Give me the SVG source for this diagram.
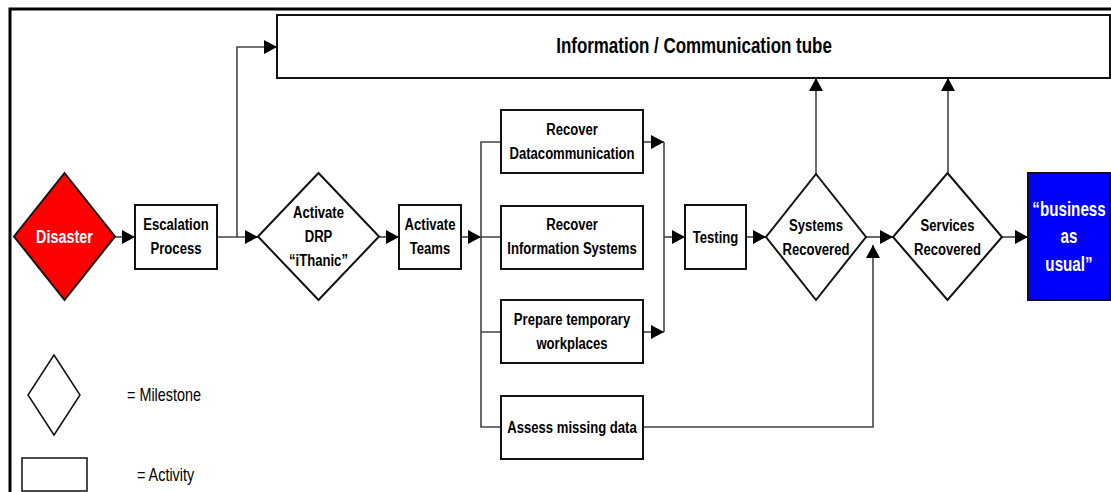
<svg xmlns="http://www.w3.org/2000/svg" width="1111" height="492" viewBox="0 0 1111 492">
<defs>
<marker id="arr" markerUnits="userSpaceOnUse" markerWidth="14" markerHeight="14" refX="13" refY="7" orient="auto">
<path d="M0,0 L13,7 L0,14 z" fill="#000"/>
</marker>
<style>
.box{fill:#fff;stroke:#111;stroke-width:2}
.t{font-family:"Liberation Sans",Arial,sans-serif;font-weight:bold;font-size:17px;text-anchor:middle;fill:#000}
.w{fill:#fff}
.c{fill:none;stroke:#444;stroke-width:1.6}
.a{marker-end:url(#arr)}
.leg{font-family:"Liberation Sans",Arial,sans-serif;font-size:17px;fill:#000}
</style>
</defs>
<rect width="1111" height="492" fill="#fff"/>
<path d="M10,492 V9 H1111" fill="none" stroke="#000" stroke-width="3"/>

<g id="connectors">
<path class="c a" d="M115,237 H135"/>
<path class="c a" d="M217,237 H258"/>
<path class="c a" d="M237,237 V47 H277"/>
<path class="c a" d="M379,237 H399"/>
<path class="c a" d="M461,237 H481"/>
<path class="c" d="M501,142 H481 V427 H501 M481,237 H501 M481,332 H501"/>
<path class="c a" d="M643,142 H664"/>
<path class="c a" d="M643,332 H664"/>
<path class="c" d="M664,142 V332"/>
<path class="c a" d="M664,237 H685"/>
<path class="c a" d="M746,237 H766"/>
<path class="c a" d="M816,174 V78"/>
<path class="c a" d="M866,237 H893"/>
<path class="c a" d="M643,427 H873 V245"/>
<path class="c a" d="M948,173 V78"/>
<path class="c a" d="M1002,237 H1028"/>
</g>

<g id="tube">
<rect class="box" x="277" y="15" width="833" height="63"/>
<text class="t" transform="matrix(0.77 0 0 1 694 53)" style="font-size:22px">Information / Communication tube</text>
</g>

<g id="disaster">
<polygon points="64.5,173 115,236.5 64.5,300 14,236.5" fill="#ff0000" stroke="#111" stroke-width="2"/>
<text class="t w" transform="matrix(0.8 0 0 1 64.5 243)" style="font-size:18px">Disaster</text>
</g>

<g id="escalation">
<rect class="box" x="135" y="205" width="82" height="64"/>
<text class="t" transform="matrix(0.77 0 0 1 176 230)">Escalation</text>
<text class="t" transform="matrix(0.77 0 0 1 176 254)">Process</text>
</g>

<g id="activate-drp">
<polygon class="box" points="318.5,173 379,236.5 318.5,300 258,236.5"/>
<text class="t" transform="matrix(0.77 0 0 1 318.5 218)">Activate</text>
<text class="t" transform="matrix(0.77 0 0 1 318.5 242)">DRP</text>
<text class="t" transform="matrix(0.77 0 0 1 318.5 266)">“iThanic”</text>
</g>

<g id="activate-teams">
<rect class="box" x="399" y="205" width="62" height="64"/>
<text class="t" transform="matrix(0.77 0 0 1 430 230)">Activate</text>
<text class="t" transform="matrix(0.77 0 0 1 430 254)">Teams</text>
</g>

<g id="recover-datacomm">
<rect class="box" x="501" y="110" width="142" height="63"/>
<text class="t" transform="matrix(0.77 0 0 1 572 135)">Recover</text>
<text class="t" transform="matrix(0.77 0 0 1 572 159)">Datacommunication</text>
</g>

<g id="recover-is">
<rect class="box" x="501" y="206" width="142" height="63"/>
<text class="t" transform="matrix(0.77 0 0 1 572 230)">Recover</text>
<text class="t" transform="matrix(0.77 0 0 1 572 254)">Information Systems</text>
</g>

<g id="prepare-workplaces">
<rect class="box" x="501" y="300" width="142" height="63"/>
<text class="t" transform="matrix(0.77 0 0 1 572 325)">Prepare temporary</text>
<text class="t" transform="matrix(0.77 0 0 1 572 349)">workplaces</text>
</g>

<g id="assess-data">
<rect class="box" x="501" y="396" width="142" height="63"/>
<text class="t" transform="matrix(0.77 0 0 1 572 433)">Assess missing data</text>
</g>

<g id="testing">
<rect class="box" x="685" y="205" width="61" height="64"/>
<text class="t" transform="matrix(0.77 0 0 1 715.5 243)">Testing</text>
</g>

<g id="systems-recovered">
<polygon class="box" points="816,174 866,237 816,300 766,237"/>
<text class="t" transform="matrix(0.77 0 0 1 816 231)">Systems</text>
<text class="t" transform="matrix(0.77 0 0 1 816 255)">Recovered</text>
</g>

<g id="services-recovered">
<polygon class="box" points="947.5,173 1002,237 947.5,300 893,237"/>
<text class="t" transform="matrix(0.77 0 0 1 947.5 231)">Services</text>
<text class="t" transform="matrix(0.77 0 0 1 947.5 255)">Recovered</text>
</g>

<g id="business-as-usual">
<rect x="1028" y="173" width="82" height="127" fill="#0000ff" stroke="#111" stroke-width="2"/>
<text class="t w" transform="matrix(0.76 0 0 1 1069 216)" style="font-size:20px">“business</text>
<text class="t w" transform="matrix(0.76 0 0 1 1069 243)" style="font-size:20px">as</text>
<text class="t w" transform="matrix(0.76 0 0 1 1069 271)" style="font-size:20px">usual”</text>
</g>

<g id="legend">
<polygon points="54,355 80,395 54,435 28,395" fill="#fff" stroke="#111" stroke-width="1.5"/>
<text class="leg" transform="matrix(0.8 0 0 1 127 401)" style="font-size:18px">= Milestone</text>
<rect x="22" y="458" width="65" height="33" fill="#fff" stroke="#111" stroke-width="1.5"/>
<text class="leg" transform="matrix(0.8 0 0 1 137 481)" style="font-size:18px">= Activity</text>
</g>
</svg>
